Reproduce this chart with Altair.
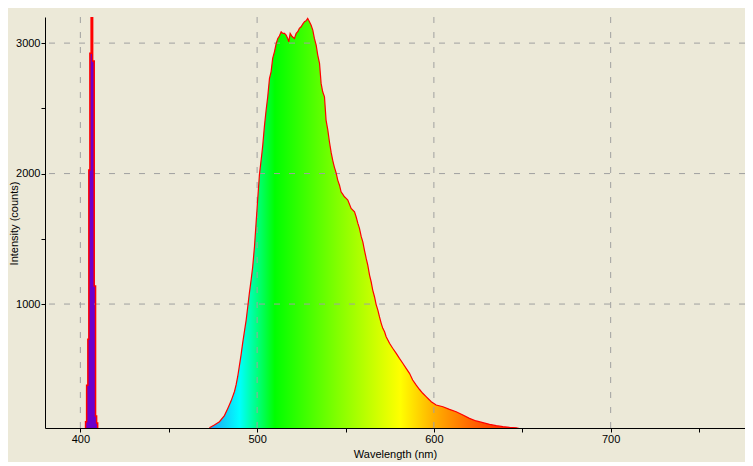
import altair as alt
import pandas as pd

# ---- data ----
emission_wl = [473.0, 475.8, 478.7, 481.5, 483.4, 485.3, 487.2, 488.1, 489.0, 489.9,
               490.9, 491.8, 492.8, 493.8, 494.7, 495.6, 496.6, 497.5, 498.5, 499.4,
               500.3, 501.3, 502.6, 503.2, 504.1, 505.1, 506.0, 507.0, 507.9, 508.8,
               509.8, 510.8, 511.7, 512.6, 513.6, 514.5, 515.5, 516.4, 517.3, 517.9,
               518.7, 519.8, 521.1, 522.1, 523.0, 523.9, 524.9, 525.8, 526.8, 527.7,
               528.6, 529.6, 530.5, 531.5, 532.4, 533.4, 534.3, 535.3, 536.2, 537.1,
               538.1, 539.0, 540.0, 540.9, 541.9, 542.8, 543.7, 544.7, 545.6, 546.6,
               547.5, 548.5, 549.4, 550.4, 551.3, 553.2, 555.1, 556.0, 557.0, 557.9,
               558.9, 559.8, 560.7, 561.7, 562.6, 563.6, 564.5, 565.4, 566.4, 567.3,
               568.3, 569.2, 570.2, 571.1, 572.1, 573.0, 574.9, 576.7, 578.7, 580.5,
               582.4, 584.3, 586.2, 588.0, 589.9, 591.9, 593.7, 595.6, 597.5, 598.5,
               601.3, 605.1, 608.8, 612.6, 616.4, 620.1, 623.9, 627.7, 631.5, 635.3,
               639.0, 642.8, 646.6, 648.5]
emission_counts = [52, 73, 98, 145, 200, 258, 330, 380, 443, 520,
                   609, 699, 788, 877, 979, 1082, 1184, 1286, 1439, 1618,
                   1797, 1990, 2142, 2218, 2359, 2487, 2588, 2729, 2780, 2883,
                   2933, 2997, 3036, 3054, 3087, 3074, 3074, 3061, 3036, 3010,
                   3074, 3050, 3036, 3074, 3087, 3113, 3125, 3146, 3164, 3171,
                   3189, 3164, 3138, 3100, 3036, 2985, 2908, 2844, 2691, 2627,
                   2588, 2410, 2333, 2244, 2160, 2100, 2050, 2005, 1950, 1911,
                   1860, 1840, 1822, 1810, 1797, 1733, 1707, 1669, 1618, 1580,
                   1516, 1477, 1414, 1350, 1299, 1222, 1171, 1107, 1056, 998,
                   954, 903, 852, 814, 788, 750, 699, 661, 622, 584,
                   546, 507, 469, 418, 380, 345, 316, 290, 265, 251,
                   226, 213, 193, 175, 150, 124, 104, 91, 78, 68,
                   60, 55, 52, 45]

laser_wl = [402.8, 403.1, 404.0, 404.5, 405.1, 405.7, 406.5, 407.4, 408.3, 408.9, 409.5, 410.1]
laser_counts = [30, 98, 377, 730, 2027, 2923, 4500, 2862, 1138, 142, 88, 30]

x_ticks = [400, 450, 500, 550, 600, 650, 700, 750]
x_grid = [400, 500, 600, 700]
y_ticks = [1000, 1500, 2000, 2500, 3000]
y_grid = [1000, 2000, 3000]

color_stop_wl = [473, 490, 510, 545, 581, 600, 620, 645]
color_stop_hex = ["#22A0F0", "#00FFFF", "#00FF00", "#80FF00", "#FFFF00",
                  "#FFB000", "#FF6A00", "#FF1E00"]

BG = "#ECE9D8"
FONT = "Liberation Sans"

emission = pd.DataFrame({"wl": emission_wl, "counts": emission_counts})
laser = pd.DataFrame({"wl": laser_wl, "counts": laser_counts})

lo, hi = min(emission_wl), max(emission_wl)
stops = [alt.GradientStop(offset=(w - lo) / (hi - lo), color=c)
         for w, c in zip(color_stop_wl, color_stop_hex)]
gradient = alt.LinearGradient(gradient="linear", stops=stops, x1=0, x2=1, y1=0, y2=0)

xscale = alt.Scale(domain=[380, 776], nice=False, zero=False)
yscale = alt.Scale(domain=[50, 3200], nice=False, zero=False)

xaxis = alt.Axis(values=x_ticks, format="d",
                 labelExpr="datum.value % 100 === 0 ? datum.label : ''",
                 grid=False, domainColor="black", tickColor="black", tickSize=4,
                 labelColor="black", labelFont=FONT, labelFontSize=11, labelPadding=1,
                 title="Wavelength (nm)", titleFont=FONT, titleFontSize=11,
                 titleFontWeight="normal", titleColor="black",
                 titleY=26, titleBaseline="middle", labelFlush=False)
yaxis = alt.Axis(values=y_ticks, format="d",
                 labelExpr="datum.value % 1000 === 0 ? datum.label : ''",
                 grid=False, domainColor="black", tickColor="black", tickSize=4,
                 labelColor="black", labelFont=FONT, labelFontSize=11, labelPadding=1,
                 title="Intensity (counts)", titleFont=FONT, titleFontSize=11,
                 titleFontWeight="normal", titleColor="black",
                 titleX=-31, titleY=206, titleAngle=270, titleBaseline="middle",
                 titleAlign="center", labelFlush=False)

area_em = alt.Chart(emission).mark_area(clip=True, color=gradient).encode(
    x=alt.X("wl:Q", scale=xscale, axis=xaxis),
    y=alt.Y("counts:Q", scale=yscale, axis=yaxis),
)
area_laser = alt.Chart(laser).mark_area(clip=True, color="#6A00CC", interpolate="step").encode(
    x=alt.X("wl:Q", scale=xscale),
    y=alt.Y("counts:Q", scale=yscale),
)
xg = alt.Chart(pd.DataFrame({"v": x_grid})).mark_rule(
    color="#A0A0A0", strokeDash=[6, 9], strokeWidth=1).encode(x=alt.X("v:Q", scale=xscale))
yg = alt.Chart(pd.DataFrame({"v": y_grid})).mark_rule(
    color="#A0A0A0", strokeDash=[6, 9], strokeWidth=1).encode(y=alt.Y("v:Q", scale=yscale))
line_em = alt.Chart(emission).mark_line(clip=True, color="#FF0000", strokeWidth=1.2).encode(
    x=alt.X("wl:Q", scale=xscale),
    y=alt.Y("counts:Q", scale=yscale),
)
line_laser = alt.Chart(laser).mark_line(clip=True, color="#FF0000", strokeWidth=1.5,
                                        interpolate="step").encode(
    x=alt.X("wl:Q", scale=xscale),
    y=alt.Y("counts:Q", scale=yscale),
)

chart = alt.layer(area_em, area_laser, xg, yg, line_em, line_laser).properties(
    width=700, height=411,
    autosize=alt.AutoSizeParams(type="none"),
    padding={"left": 37, "top": 9, "right": 0, "bottom": 34},
    background=BG,
).configure_view(stroke=None, fill=BG).configure_axis(
    domainWidth=1, tickWidth=1,
)

chart.save("out.html", embed_options={"renderer": "svg", "actions": False})
